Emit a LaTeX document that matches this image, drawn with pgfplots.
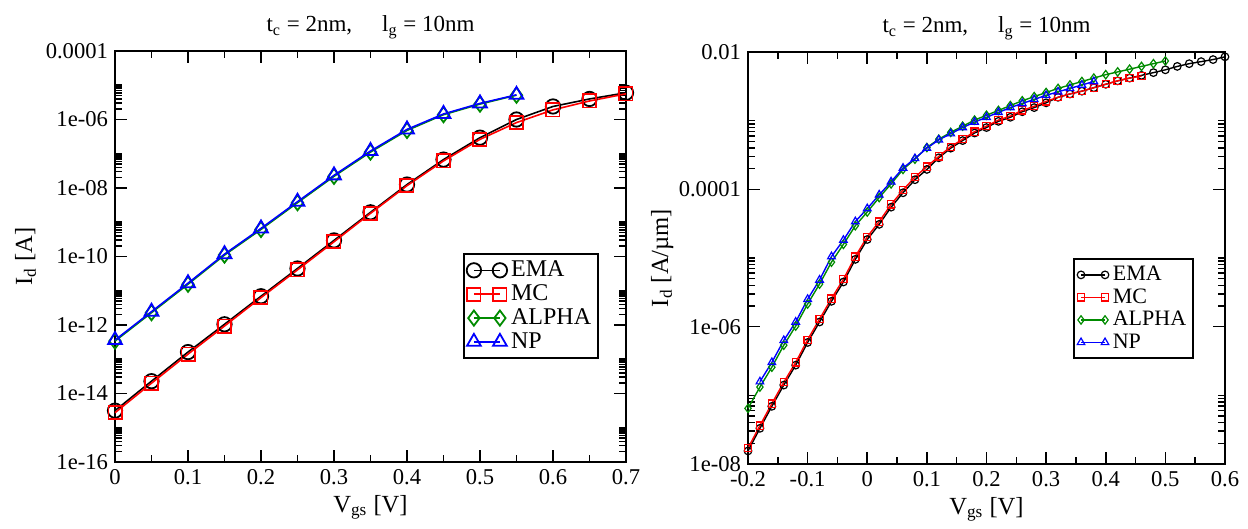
\documentclass[border=0pt]{standalone}
\usepackage{fontspec}
\setmainfont{Liberation Serif}
\usepackage{pgfplots}
\pgfplotsset{compat=1.18}
\definecolor{xgreen}{RGB}{0,139,0}
\definecolor{xred}{RGB}{255,0,0}
\definecolor{xblue}{RGB}{0,0,255}

\pgfplotsset{
  mystyle/.style={
    scale only axis,
    axis line style={line width=1pt},
    every tick/.style={line width=0.8pt, black},
    major tick length=6pt,
    minor tick length=3.5pt,
    tick label style={font=\fontsize{11.3}{13}\selectfont},
    label style={font=\fontsize{12.3}{14}\selectfont},
    title style={font=\fontsize{11.5}{13}\selectfont, yshift=-3.5pt},
    xlabel style={at={(axis description cs:0.5,0)}, anchor=base, yshift=-25pt},
    legend cell align=left,
    legend style={draw=black, line width=0.8pt, inner sep=1.5pt, row sep=-1.5pt, anchor=south east},
    clip=false,
  },
}

\begin{document}
\begin{tikzpicture}
\path[use as bounding box] (0pt,0pt) rectangle (624pt,264.5pt);

% ---------------- left axis ----------------
\begin{axis}[ymode=log, mystyle,
  at={(57.5pt,33.5pt)}, anchor=south west,
  width=255.5pt, height=205.5pt,
  xmin=0, xmax=0.7,
  ymin=1e-16, ymax=1e-4,
  xtick={0,0.1,0.2,0.3,0.4,0.5,0.6,0.7},
  xticklabels={0,0.1,0.2,0.3,0.4,0.5,0.6,0.7},
  minor xtick={0.05,0.15,0.25,0.35,0.45,0.55,0.65},
  ytick={1e-16,1e-14,1e-12,1e-10,1e-8,1e-6,1e-4},
  yticklabels={1e-16,1e-14,1e-12,1e-10,1e-08,1e-06,0.0001},
  minor ytick={2e-16,3e-16,4e-16,5e-16,6e-16,7e-16,8e-16,9e-16,1e-15,
               2e-14,3e-14,4e-14,5e-14,6e-14,7e-14,8e-14,9e-14,1e-13,
               2e-12,3e-12,4e-12,5e-12,6e-12,7e-12,8e-12,9e-12,1e-11,
               2e-10,3e-10,4e-10,5e-10,6e-10,7e-10,8e-10,9e-10,1e-9,
               2e-8,3e-8,4e-8,5e-8,6e-8,7e-8,8e-8,9e-8,1e-7,
               2e-6,3e-6,4e-6,5e-6,6e-6,7e-6,8e-6,9e-6,1e-5},
  title={t\textsubscript{c} = 2nm,\hspace{1.3em}l\textsubscript{g} = 10nm},
  xlabel={V\textsubscript{gs} [V]},
  ylabel={I\textsubscript{d} [A]},
  ylabel style={at={(axis description cs:-0.175,0.5)}, anchor=center, rotate=0},
  legend style={at={(0.947,0.2506)}, font=\fontsize{12}{12}\selectfont},
  legend image code/.code={\draw[mark repeat=2,mark phase=1,#1] plot coordinates {(0pt,0pt)(6.5pt,0pt)(13pt,0pt)};},
  every axis plot/.append style={line width=0.8pt, mark options={solid, line width=0.9pt}},
]
\addplot[black, mark=o, mark size=3.6pt] coordinates {
(0,3.16e-15) (0.05,2.29e-14) (0.10,1.62e-13) (0.15,1.05e-12) (0.20,6.92e-12)
(0.25,4.47e-11) (0.30,2.95e-10) (0.35,1.95e-09) (0.40,1.26e-08) (0.45,6.76e-08)
(0.50,2.95e-07) (0.55,1.00e-06) (0.60,2.40e-06) (0.65,3.98e-06) (0.70,6.03e-06)};
\addlegendentry{EMA}
\addplot[xred, mark=square, mark size=3.3pt] coordinates {
(0,2.75e-15) (0.05,2.00e-14) (0.10,1.41e-13) (0.15,9.33e-13) (0.20,6.31e-12)
(0.25,4.07e-11) (0.30,2.69e-10) (0.35,1.82e-09) (0.40,1.17e-08) (0.45,6.17e-08)
(0.50,2.63e-07) (0.55,8.13e-07) (0.60,1.91e-06) (0.65,3.47e-06) (0.70,5.62e-06)};
\addlegendentry{MC}
\addplot[xgreen, mark=diamond, mark size=3.8pt] coordinates {
(0,3.39e-13) (0.05,2.29e-12) (0.10,1.55e-11) (0.15,1.10e-10) (0.20,6.17e-10)
(0.25,3.72e-09) (0.30,2.19e-08) (0.35,1.12e-07) (0.40,4.79e-07) (0.45,1.38e-06)
(0.50,2.82e-06) (0.55,5.13e-06)};
\addlegendentry{ALPHA}
\addplot[xblue, mark=triangle, mark size=4pt] coordinates {
(0,3.63e-13) (0.05,2.45e-12) (0.10,1.66e-11) (0.15,1.17e-10) (0.20,6.61e-10)
(0.25,3.98e-09) (0.30,2.34e-08) (0.35,1.20e-07) (0.40,5.13e-07) (0.45,1.45e-06)
(0.50,2.95e-06) (0.55,5.25e-06)};
\addlegendentry{NP}
\end{axis}

% ---------------- right axis ----------------
\begin{axis}[ymode=log, mystyle,
  at={(374pt,32.5pt)}, anchor=south west,
  width=238.5pt, height=206pt,
  xmin=-0.2, xmax=0.6,
  ymin=1e-8, ymax=1e-2,
  xtick={-0.2,-0.1,0,0.1,0.2,0.3,0.4,0.5,0.6},
  xticklabels={-0.2,-0.1,0,0.1,0.2,0.3,0.4,0.5,0.6},
  minor xtick={-0.15,-0.05,0.05,0.15,0.25,0.35,0.45,0.55},
  ytick={1e-8,1e-6,1e-4,1e-2},
  yticklabels={1e-08,1e-06,0.0001,0.01},
  minor ytick={2e-8,3e-8,4e-8,5e-8,6e-8,7e-8,8e-8,9e-8,1e-7,
               2e-6,3e-6,4e-6,5e-6,6e-6,7e-6,8e-6,9e-6,1e-5,
               2e-4,3e-4,4e-4,5e-4,6e-4,7e-4,8e-4,9e-4,1e-3},
  title={t\textsubscript{c} = 2nm,\hspace{1.3em}l\textsubscript{g} = 10nm},
  xlabel={V\textsubscript{gs} [V]},
  ylabel={I\textsubscript{d} [A/µm]},
  ylabel style={at={(axis description cs:-0.18,0.5)}, anchor=center, rotate=0},
  legend style={at={(0.935,0.255)}, font=\fontsize{11}{11}\selectfont},
  legend image code/.code={\draw[mark repeat=2,mark phase=1,#1] plot coordinates {(0pt,0pt)(6pt,0pt)(12pt,0pt)};},
  every axis plot/.append style={line width=0.7pt, mark options={solid, line width=0.6pt}},
]
\addplot[black, mark=o, mark size=1.9pt] coordinates {
(-0.20,1.55e-08) (-0.18,3.31e-08) (-0.16,6.92e-08) (-0.14,1.41e-07) (-0.12,2.75e-07)
(-0.10,5.89e-07) (-0.08,1.17e-06) (-0.06,2.34e-06) (-0.04,4.47e-06) (-0.02,9.55e-06)
(0.00,1.86e-05) (0.02,3.09e-05) (0.04,5.50e-05) (0.06,8.91e-05) (0.08,1.38e-04)
(0.10,1.95e-04) (0.12,2.88e-04) (0.14,3.98e-04) (0.16,5.13e-04) (0.18,6.61e-04)
(0.20,7.94e-04) (0.22,9.77e-04) (0.24,1.12e-03) (0.26,1.35e-03) (0.28,1.55e-03)
(0.30,1.82e-03) (0.32,2.19e-03) (0.34,2.45e-03) (0.36,2.69e-03) (0.38,3.02e-03)
(0.40,3.39e-03) (0.42,3.80e-03) (0.44,4.17e-03) (0.46,4.57e-03) (0.48,5.01e-03)
(0.50,5.50e-03) (0.52,6.17e-03) (0.54,6.76e-03) (0.56,7.24e-03) (0.58,7.76e-03)
(0.60,8.51e-03)};
\addlegendentry{EMA}
\addplot[xred, mark=square, mark size=1.8pt] coordinates {
(-0.20,1.70e-08) (-0.18,3.63e-08) (-0.16,7.59e-08) (-0.14,1.55e-07) (-0.12,3.02e-07)
(-0.10,6.46e-07) (-0.08,1.29e-06) (-0.06,2.57e-06) (-0.04,4.90e-06) (-0.02,1.05e-05)
(0.00,2.04e-05) (0.02,3.39e-05) (0.04,6.03e-05) (0.06,9.77e-05) (0.08,1.51e-04)
(0.10,2.14e-04) (0.12,3.02e-04) (0.14,4.17e-04) (0.16,5.37e-04) (0.18,6.92e-04)
(0.20,8.32e-04) (0.22,1.02e-03) (0.24,1.17e-03) (0.26,1.41e-03) (0.28,1.62e-03)
(0.30,1.91e-03) (0.32,2.19e-03) (0.34,2.45e-03) (0.36,2.69e-03) (0.38,3.02e-03)
(0.40,3.39e-03) (0.42,3.80e-03) (0.44,4.17e-03) (0.46,4.47e-03)};
\addlegendentry{MC}
\addplot[xgreen, mark=diamond, mark size=2.1pt] coordinates {
(-0.20,6.46e-08) (-0.18,1.32e-07) (-0.16,2.57e-07) (-0.14,5.37e-07) (-0.12,1.02e-06)
(-0.10,2.14e-06) (-0.08,4.17e-06) (-0.06,8.71e-06) (-0.04,1.58e-05) (-0.02,2.95e-05)
(0.00,4.68e-05) (0.02,7.59e-05) (0.04,1.20e-04) (0.06,1.95e-04) (0.08,2.75e-04)
(0.10,4.07e-04) (0.12,5.37e-04) (0.14,6.76e-04) (0.16,8.32e-04) (0.18,1.02e-03)
(0.20,1.20e-03) (0.22,1.41e-03) (0.24,1.66e-03) (0.26,1.95e-03) (0.28,2.24e-03)
(0.30,2.57e-03) (0.32,2.95e-03) (0.34,3.31e-03) (0.36,3.72e-03) (0.38,4.17e-03)
(0.40,4.68e-03) (0.42,5.13e-03) (0.44,5.62e-03) (0.46,6.17e-03) (0.48,6.76e-03)
(0.50,7.41e-03)};
\addlegendentry{ALPHA}
\addplot[xblue, mark=triangle, mark size=2.2pt] coordinates {
(-0.18,1.58e-07) (-0.16,3.02e-07) (-0.14,6.31e-07) (-0.12,1.17e-06) (-0.10,2.51e-06)
(-0.08,4.79e-06) (-0.06,1.05e-05) (-0.04,1.82e-05) (-0.02,3.39e-05) (0.00,5.25e-05)
(0.02,8.32e-05) (0.04,1.29e-04) (0.06,2.04e-04) (0.08,2.82e-04) (0.10,3.98e-04)
(0.12,5.25e-04) (0.14,6.46e-04) (0.16,7.94e-04) (0.18,9.55e-04) (0.20,1.12e-03)
(0.22,1.32e-03) (0.24,1.55e-03) (0.26,1.78e-03) (0.28,2.04e-03) (0.30,2.34e-03)
(0.32,2.63e-03) (0.34,2.95e-03) (0.36,3.31e-03) (0.38,3.72e-03)};
\addlegendentry{NP}
\end{axis}
\end{tikzpicture}
\end{document}
